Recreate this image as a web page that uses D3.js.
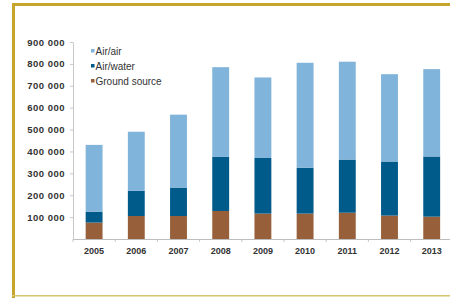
<!DOCTYPE html>
<html>
<head>
<meta charset="utf-8">
<script src="https://cdn.jsdelivr.net/npm/d3@7"></script>
<style>
  html, body { margin: 0; padding: 0; background: #fff; }
  svg { display: block; font-family: "Liberation Sans", Arial, sans-serif; }
</style>
</head>
<body>
<svg id="chart" width="450" height="298"></svg>
<script>
// chart data (values in units)
const years = ['2005', '2006', '2007', '2008', '2009', '2010', '2011', '2012', '2013'];
const groundSource = [75000, 105000, 105000, 128000, 116000, 116000, 120000, 107000, 102000];
const airWater = [50000, 115000, 130000, 247000, 254000, 210000, 243000, 247000, 275000];
const airAir = [305000, 270000, 333000, 410000, 368000, 479000, 447000, 399000, 399000];
const yTicks = [100000, 200000, 300000, 400000, 500000, 600000, 700000, 800000, 900000];

const seriesKeys = ['ground', 'airwater', 'airair'];
const legendLabels = ['Air/air', 'Air/water', 'Ground source'];
const colors = { airair: '#80b4da', airwater: '#005a8a', ground: '#98603a' };

const svg = d3.select('#chart');

// gold frame (left + top thick, bottom thin)
svg.append('rect').attr('x', 12).attr('y', 3).attr('width', 3).attr('height', 295).attr('fill', '#c6a52c');
svg.append('rect').attr('x', 12).attr('y', 3).attr('width', 438).attr('height', 3).attr('fill', '#c6a52c');
svg.append('rect').attr('x', 12).attr('y', 295).attr('width', 438).attr('height', 1.5).attr('fill', '#d8c370');

const m = { left: 73, top: 42, bottom: 239 };
const step = 42.2;
const x = d3.scaleBand().domain(years)
  .range([m.left, m.left + step * years.length])
  .paddingInner(0.6).paddingOuter(0.3);
const y = d3.scaleLinear().domain([0, 900000]).range([m.bottom, m.top]);

const rows = years.map((yr, i) => ({ year: yr, ground: groundSource[i], airwater: airWater[i], airair: airAir[i] }));
const stacked = d3.stack().keys(seriesKeys)(rows);

// bars
svg.append('g').selectAll('g').data(stacked).join('g')
  .attr('fill', d => colors[d.key])
  .selectAll('rect').data(d => d).join('rect')
  .attr('x', d => x(d.data.year))
  .attr('width', x.bandwidth())
  .attr('y', d => y(d[1]))
  .attr('height', d => y(d[0]) - y(d[1]));

// y axis
const yAxis = svg.append('g').attr('transform', `translate(${m.left},0)`)
  .call(d3.axisLeft(y).tickValues(yTicks).tickSize(3).tickSizeOuter(0).tickPadding(5)
    .tickFormat(v => d3.format(',')(v).replace(/,/g, ' ')));
yAxis.select('.domain').attr('stroke', '#c8c8c8');
yAxis.selectAll('.tick line').attr('stroke', '#c8c8c8');
yAxis.selectAll('text').attr('fill', '#333').attr('font-size', 9.5)
  .attr('font-weight', 'bold').attr('letter-spacing', 0.5);

// x axis
const xAxis = svg.append('g').attr('transform', `translate(0,${m.bottom})`)
  .call(d3.axisBottom(x).tickSize(0).tickPadding(9));
xAxis.select('.domain').attr('stroke', '#bdbdbd');
xAxis.selectAll('text').attr('fill', '#333').attr('font-size', 9).attr('font-weight', 'bold');
// small separators between categories
xAxis.selectAll('line.sep').data(years).join('line').attr('class', 'sep')
  .attr('x1', d => x(d) - x.step() * 0.3).attr('x2', d => x(d) - x.step() * 0.3)
  .attr('y1', 0).attr('y2', 3).attr('stroke', '#c8c8c8');

// legend
const legendOrder = ['airair', 'airwater', 'ground'];
const lg = svg.append('g').attr('transform', 'translate(91,52)');
legendOrder.forEach((k, i) => {
  const row = lg.append('g').attr('transform', `translate(0,${i * 15})`);
  row.append('rect').attr('x', 0).attr('y', -3).attr('width', 3.5).attr('height', 3.5).attr('fill', colors[k]);
  row.append('text').attr('x', 4.5).attr('y', 0).attr('dy', '0.32em')
    .attr('font-size', 10).attr('fill', '#333').text(legendLabels[i]);
});
</script>
</body>
</html>
